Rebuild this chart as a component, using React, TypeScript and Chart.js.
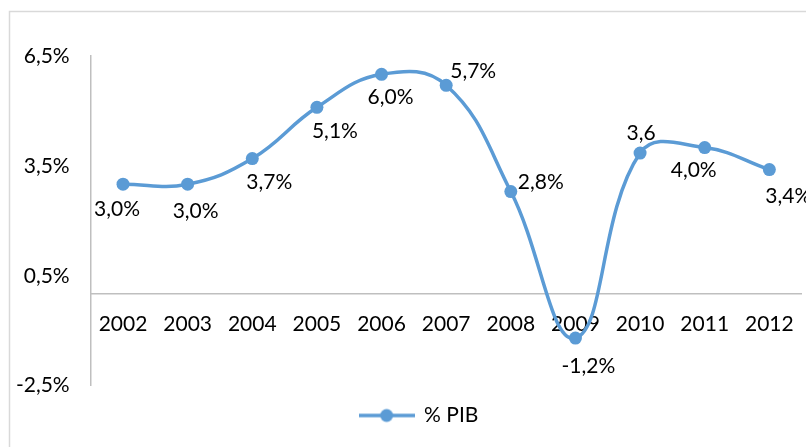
import React, { useEffect, useRef } from "react";
import { Chart, registerables } from "chart.js";

Chart.register(...registerables);

const categories = ["2002", "2003", "2004", "2005", "2006", "2007", "2008", "2009", "2010", "2011", "2012"];
const pibValues = [3.0, 3.0, 3.7, 5.1, 6.0, 5.7, 2.8, -1.2, 3.85, 4.0, 3.4];
const pibLabels = ["3,0%", "3,0%", "3,7%", "5,1%", "6,0%", "5,7%", "2,8%", "-1,2%", "3,6", "4,0%", "3,4%"];
const yTickValues = [-2.5, 0.5, 3.5, 6.5];
const seriesName = "% PIB";

// label placement relative to each point (style only)
const labelOffsets: [number, number][] = [
  [-6, 25], [8, 27], [17, 24], [18, 24], [9, 23], [27, -14],
  [30, -9], [13, 28], [1, -20], [-11, 23], [19, 27],
];

const BLUE = "#5B9BD5";
const FONT_FAMILY = "Lato, 'Noto Sans', sans-serif";
const FONT_SIZE = 21;

export default function App() {
  const ref = useRef<HTMLCanvasElement | null>(null);

  useEffect(() => {
    if (!ref.current) return;

    const legendImg = document.createElement("canvas");
    legendImg.width = 56;
    legendImg.height = 16;
    const lctx = legendImg.getContext("2d")!;
    lctx.strokeStyle = BLUE;
    lctx.lineWidth = 3.5;
    lctx.beginPath();
    lctx.moveTo(0, 8);
    lctx.lineTo(56, 8);
    lctx.stroke();
    lctx.fillStyle = BLUE;
    lctx.beginPath();
    lctx.arc(28, 8, 6.5, 0, Math.PI * 2);
    lctx.fill();

    const framePlugin = {
      id: "frame",
      afterLayout(chart: any) {
        // let the y tick labels extend left of the axis box without clipping
        chart.scales.y.left = 0;
      },
      beforeDraw(chart: any) {
        const c = chart.ctx;
        c.save();
        c.strokeStyle = "#d9d9d9";
        c.lineWidth = 1.5;
        c.beginPath();
        c.moveTo(9.5, chart.height + 5);
        c.lineTo(9.5, 11.5);
        c.lineTo(chart.width + 5, 11.5);
        c.stroke();
        c.restore();
      },
    };

    const labelPlugin = {
      id: "pointLabels",
      afterDatasetsDraw(chart: any) {
        const c = chart.ctx;
        const meta = chart.getDatasetMeta(0);
        c.save();
        c.font = `${FONT_SIZE}px ${FONT_FAMILY}`;
        c.fillStyle = "#000000";
        c.textAlign = "center";
        c.textBaseline = "middle";
        meta.data.forEach((pt: any, i: number) => {
          const [dx, dy] = labelOffsets[i];
          c.fillText(pibLabels[i], pt.x + dx, pt.y + dy);
        });
        c.restore();
      },
    };

    const chart = new Chart(ref.current, {
      type: "line",
      data: {
        labels: categories,
        datasets: [
          {
            label: seriesName,
            data: pibValues,
            borderColor: BLUE,
            backgroundColor: BLUE,
            borderWidth: 3.5,
            pointRadius: 6.5,
            pointHoverRadius: 6.5,
            pointBackgroundColor: BLUE,
            pointBorderWidth: 0,
            tension: 0.42,
            fill: false,
          },
        ],
      },
      options: {
        responsive: false,
        animation: false,
        layout: { padding: { left: 29.3, right: 3.3, top: 56, bottom: 11 } },
        scales: {
          x: {
            type: "category",
            offset: true,
            position: { y: 0 } as any,
            grid: { display: false, drawTicks: false },
            border: { display: true, color: "#bfbfbf", width: 1.5 },
            ticks: {
              color: "#000000",
              padding: 18,
              maxRotation: 0,
              autoSkip: false,
              font: { family: FONT_FAMILY, size: FONT_SIZE },
            },
          },
          y: {
            min: -2.5,
            max: 6.5,
            grid: { display: false, drawTicks: false },
            border: { display: true, color: "#bfbfbf", width: 1.5 },
            afterBuildTicks(scale: any) {
              scale.ticks = yTickValues.map((v) => ({ value: v }));
            },
            afterFit(scale: any) {
              scale.width = 61.4;
            },
            ticks: {
              color: "#000000",
              padding: 21,
              font: { family: FONT_FAMILY, size: FONT_SIZE },
              callback: (v: any) => `${Number(v).toFixed(1).replace(".", ",")}%`,
            },
          },
        },
        plugins: {
          legend: {
            display: true,
            position: "bottom",
            labels: {
              usePointStyle: true,
              pointStyle: legendImg as any,
              pointStyleWidth: 54,
              padding: 19.3,
              color: "#000000",
              font: { family: FONT_FAMILY, size: FONT_SIZE },
            },
          },
          tooltip: { enabled: false },
        },
      },
      plugins: [framePlugin, labelPlugin],
    });

    return () => chart.destroy();
  }, []);

  return (
    <div style={{ position: "fixed", left: 0, top: 0, width: 806, height: 447, overflow: "hidden", background: "#fff" }}>
      <canvas ref={ref} width={812} height={447} style={{ width: 812, height: 447, display: "block" }} />
    </div>
  );
}
